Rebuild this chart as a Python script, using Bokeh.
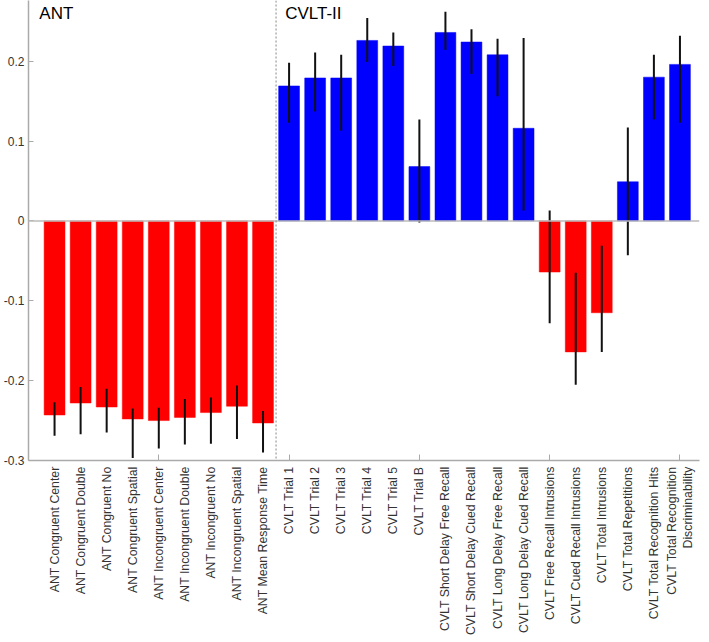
import math
from bokeh.plotting import figure
from bokeh.models import FixedTicker, Span, Label, ColumnDataSource
from bokeh.embed import file_html
from bokeh.resources import INLINE

labels = [
    "ANT Congruent Center", "ANT Congruent Double", "ANT Congruent No",
    "ANT Congruent Spatial", "ANT Incongruent Center", "ANT Incongruent Double",
    "ANT Incongruent No", "ANT Incongruent Spatial", "ANT Mean Response Time",
    "CVLT Trial 1", "CVLT Trial 2", "CVLT Trial 3", "CVLT Trial 4", "CVLT Trial 5",
    "CVLT Trial B", "CVLT Short Delay Free Recall", "CVLT Short Delay Cued Recall",
    "CVLT Long Delay Free Recall", "CVLT Long Delay Cued Recall",
    "CVLT Free Recall Intrusions", "CVLT Cued Recall Intrusions",
    "CVLT Total Intrusions", "CVLT Total Repetitions",
    "CVLT Total Recognition Hits", "CVLT Total Recognition\nDiscriminability",
]
values = [
    -0.243, -0.228, -0.233, -0.248, -0.250, -0.246, -0.240, -0.232, -0.253,
    0.169, 0.179, 0.179, 0.226, 0.219, 0.068, 0.236, 0.224, 0.208, 0.116,
    -0.064, -0.164, -0.115, 0.049, 0.180, 0.196,
]
err_low = [
    -0.269, -0.267, -0.265, -0.297, -0.285, -0.280, -0.279, -0.273, -0.290,
    0.123, 0.137, 0.113, 0.199, 0.194, -0.002, 0.214, 0.184, 0.156, 0.013,
    -0.128, -0.205, -0.164, -0.043, 0.127, 0.123,
]
err_high = [
    -0.227, -0.208, -0.210, -0.235, -0.234, -0.223, -0.221, -0.206, -0.238,
    0.198, 0.211, 0.208, 0.254, 0.236, 0.127, 0.262, 0.240, 0.228, 0.229,
    0.013, -0.065, -0.031, 0.117, 0.208, 0.232,
]
y_ticks = [-0.3, -0.2, -0.1, 0, 0.1, 0.2]
y_tick_labels = ["-0.3", "-0.2", "-0.1", "0", "0.1", "0.2"]
group_names = ["ANT", "CVLT-II"]

xs = list(range(1, len(values) + 1))
colors = ["#ff0000" if v < 0 else "#0000ff" for v in values]
src = ColumnDataSource(dict(x=xs, top=values, lo=err_low, hi=err_high, color=colors))

p = figure(frame_width=671, frame_height=460, x_range=(0, 25.75), y_range=(-0.3, 0.276),
           output_backend="svg", toolbar_location=None,
           min_border_left=26, min_border_right=2, min_border_top=0,
           min_border_bottom=0)
p.outline_line_color = None
p.xgrid.visible = False
p.ygrid.visible = False
p.background_fill_color = "white"
p.border_fill_color = "white"

p.vbar(x="x", top="top", bottom=0, width=0.8, fill_color="color",
       line_color="color", line_width=0.5, source=src)
p.segment(x0="x", y0="lo", x1="x", y1="hi", line_color="#111111",
          line_width=2, source=src)

p.add_layout(Span(location=0, dimension="width", line_color="#bbbbbb", line_width=1.5))
p.add_layout(Span(location=9.5, dimension="height", line_color="#888888",
                  line_width=1, line_dash="2 2"))

# x axis
p.xaxis.ticker = FixedTicker(ticks=xs, minor_ticks=[5, 10, 15, 20, 25])
p.xaxis.major_label_overrides = {x: l for x, l in zip(xs, labels)}
p.xaxis.major_label_orientation = math.pi / 2
p.xaxis.major_tick_line_color = None
p.xaxis.major_tick_in = 0
p.xaxis.major_tick_out = 0
p.xaxis.minor_tick_in = 6
p.xaxis.minor_tick_out = 0
p.xaxis.minor_tick_line_color = "#aaaaaa"
p.xaxis.axis_line_color = "#aaaaaa"
p.xaxis.axis_line_width = 1.5
p.xaxis.major_label_text_font = "Liberation Sans"
p.xaxis.major_label_text_font_size = "12.3px"
p.xaxis.major_label_text_color = "#333333"
p.xaxis.major_label_standoff = 6

# y axis
p.yaxis.ticker = FixedTicker(ticks=y_ticks, minor_ticks=[])
p.yaxis.major_label_overrides = {t: l for t, l in zip(y_ticks, y_tick_labels)}
p.yaxis.major_tick_in = 5
p.yaxis.major_tick_out = 0
p.yaxis.major_tick_line_color = "#aaaaaa"
p.yaxis.axis_line_color = "#aaaaaa"
p.yaxis.axis_line_width = 1.5
p.yaxis.major_label_text_font = "Liberation Sans"
p.yaxis.major_label_text_font_size = "12px"
p.yaxis.major_label_text_color = "#333333"
p.yaxis.major_label_standoff = 4

for name, xpos in zip(group_names, [0.415, 9.85]):
    p.add_layout(Label(x=xpos, y=0.272, text=name, text_baseline="top",
                       text_align="left", text_font="Liberation Sans",
                       text_font_size="17px", text_color="black"))

open("out.html", "w").write(file_html(p, INLINE))
